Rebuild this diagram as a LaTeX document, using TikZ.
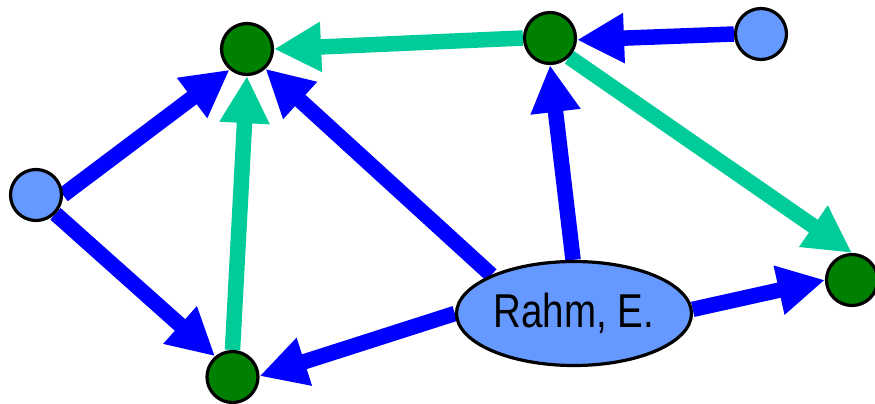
\documentclass[tikz,border=0pt]{standalone}
\usepackage{fontspec}
\setmainfont{Liberation Sans}
\usetikzlibrary{arrows.meta,shapes.geometric,backgrounds}
\definecolor{eblue}{HTML}{0000FF}
\definecolor{eteal}{HTML}{00CC99}
\definecolor{ngreen}{HTML}{008000}
\definecolor{nlight}{HTML}{6699FF}
\tikzset{
  vtx/.style={circle,draw=black,line width=3.2pt,minimum size=51pt,inner sep=0pt},
  gvtx/.style={vtx,fill=ngreen},
  lvtx/.style={vtx,fill=nlight},
  edge/.style={line width=15.5pt,-{Triangle[length=47pt,width=47pt]}},
  bedge/.style={edge,draw=eblue,fill=eblue},
  tedge/.style={edge,draw=eteal,fill=eteal},
}
\begin{document}
\begin{tikzpicture}[x=1pt,y=-1pt]
\useasboundingbox (0,0) rectangle (875,404);
\node[gvtx] (A) at (247,49) {};
\node[gvtx] (B) at (550,38) {};
\node[lvtx] (C) at (761,34) {};
\node[lvtx] (D) at (36,195) {};
\node[gvtx] (E) at (232.5,377) {};
\node[gvtx] (F) at (852,280) {};
\node[ellipse,draw=black,line width=3.2pt,fill=nlight,minimum width=235pt,minimum height=104pt,inner sep=0pt] (r) at (574,313.5)
  {\fontsize{47.5pt}{50pt}\selectfont\scalebox{0.81}[1]{Rahm, E.}};
\begin{scope}[on background layer]
\draw[tedge] (B.west) -- (A.east);
\draw[bedge] (C.west) -- (B.-4);
\draw[tedge] (B.-45) -- (F.north);
\draw[bedge] (D.0) -- (A.230);
\draw[bedge] (D.-44) -- (E.130);
\draw[tedge] (E.north) -- (A.south);
\draw[bedge] (r.155) -- (A.313);
\draw[bedge] (r.91) -- (B.south);
\draw[bedge] (r.180) -- (E.2);
\draw[bedge] (r.2) -- (F.west);
\end{scope}
\end{tikzpicture}
\end{document}
